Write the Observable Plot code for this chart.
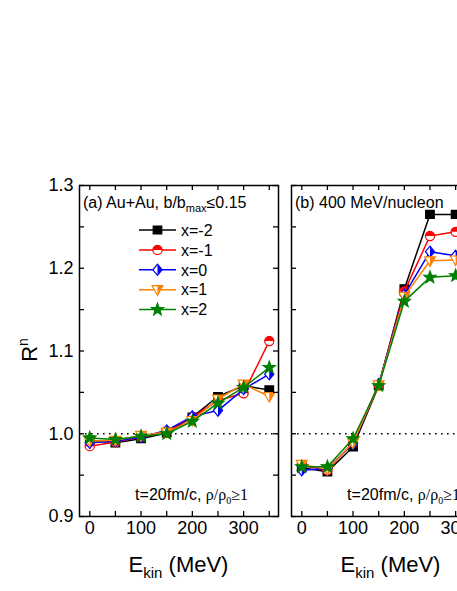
<!DOCTYPE html>
<html><head><meta charset="utf-8">
<script src="https://cdn.jsdelivr.net/npm/d3@7"></script>
<script src="https://cdn.jsdelivr.net/npm/@observablehq/plot@0.6"></script>
<style>
html,body{margin:0;padding:0;background:#fff;overflow:hidden;}
#wrap{position:relative;width:457px;height:591px;overflow:hidden;background:#fff;}
#wrap svg{position:absolute;left:0;top:0;}
</style></head><body><div id="wrap"></div>
<script>
// ---------- data ----------
const energyA = [0, 50, 100, 150, 200, 250, 300, 350];
const panelA_xm2 = [0.992, 0.989, 0.994, 1.001, 1.020, 1.045, 1.058, 1.053];
const panelA_xm1 = [0.985, 0.990, 0.996, 1.003, 1.020, 1.040, 1.049, 1.112];
const panelA_x0  = [0.989, 0.991, 0.996, 1.004, 1.021, 1.028, 1.054, 1.072];
const panelA_x1  = [0.991, 0.992, 0.998, 1.002, 1.016, 1.042, 1.060, 1.045];
const panelA_x2  = [0.995, 0.993, 0.997, 1.000, 1.015, 1.037, 1.056, 1.080];

const energyB = [0, 50, 100, 150, 200, 250, 300];
const panelB_xm2 = [0.959, 0.954, 0.984, 1.058, 1.175, 1.265, 1.265];
const panelB_xm1 = [0.962, 0.956, 0.989, 1.059, 1.172, 1.239, 1.244];
const panelB_x0  = [0.956, 0.958, 0.988, 1.060, 1.168, 1.220, 1.215];
const panelB_x1  = [0.963, 0.957, 0.989, 1.059, 1.166, 1.209, 1.210];
const panelB_x2  = [0.960, 0.960, 0.994, 1.058, 1.160, 1.189, 1.191];

const seriesNames = ["x=-2", "x=-1", "x=0", "x=1", "x=2"];
const xTicks = [0, 50, 100, 150, 200, 250, 300, 350];
const xTickLabels = [0, 100, 200, 300];
const yTicks = [0.9, 0.95, 1.0, 1.05, 1.1, 1.15, 1.2, 1.25, 1.3];
const yTickLabels = [0.9, 1.0, 1.1, 1.2, 1.3];

// ---------- styles ----------
const colors = ["#000000", "#ff0000", "#0000ff", "#ff8000", "#008000"];
const SANS = "'Liberation Sans', Arial, sans-serif";
const SERIF = "'Liberation Serif', 'Times New Roman', serif";
const H = 591, MT = 185, MB = 75;
const frameH = H - MT - MB;
const xDomain = [-20, 368];
const yDomain = [0.9, 1.3];

// custom symbols (scaled so that r=5 gives nominal pixel sizes)
const sc = size => Math.sqrt(size / Math.PI) / 5;
const symSquare = {draw(c, size){ const s = sc(size); c.moveTo(-4.3*s,-4*s); c.lineTo(4.3*s,-4*s); c.lineTo(4.3*s,4*s); c.lineTo(-4.3*s,4*s); c.closePath(); }};
const symCircle = {draw(c, size){ const s = sc(size); const R = 4.6*s; c.moveTo(R,0); c.arc(0,0,R,0,2*Math.PI); c.closePath(); }};
const symCircleTop = {draw(c, size){ const s = sc(size); const R = 4.6*s; c.moveTo(-R,0); c.arc(0,0,R,Math.PI,2*Math.PI); c.closePath(); }};
const symDiamond = {draw(c, size){ const s = sc(size); c.moveTo(0,-5.6*s); c.lineTo(4.6*s,0); c.lineTo(0,5.6*s); c.lineTo(-4.6*s,0); c.closePath(); }};
const symDiamondRight = {draw(c, size){ const s = sc(size); c.moveTo(0,-5.6*s); c.lineTo(4.6*s,0); c.lineTo(0,5.6*s); c.closePath(); }};
const symTri = {draw(c, size){ const s = sc(size); c.moveTo(-5.4*s,-4*s); c.lineTo(5.4*s,-4*s); c.lineTo(0,5.6*s); c.closePath(); }};
const symTriRight = {draw(c, size){ const s = sc(size); c.moveTo(0,-4*s); c.lineTo(5.4*s,-4*s); c.lineTo(0,5.6*s); c.closePath(); }};
const symStar = {draw(c, size){ const s = sc(size); for (let k = 0; k < 10; k++){ const a = -Math.PI/2 + k*Math.PI/5; const rr = (k%2 ? 2.7 : 6.4)*s; const px = rr*Math.cos(a), py = rr*Math.sin(a); if (k===0) c.moveTo(px,py); else c.lineTo(px,py);} c.closePath(); }};

const symbols = [
  {outline: symSquare, bg: "fill"},
  {outline: symCircle, bg: "#fff", half: symCircleTop},
  {outline: symDiamond, bg: "#fff", half: symDiamondRight},
  {outline: symTri, bg: "#fff", half: symTriRight},
  {outline: symStar, bg: "fill"}
];

function seriesMarks(energies, series) {
  const marks = [];
  series.forEach((vals, i) => {
    const rows = energies.map((e, j) => ({e, v: vals[j]}));
    const sym = symbols[i];
    marks.push(Plot.line(rows, {x: "e", y: "v", stroke: colors[i], strokeWidth: 1.5}));
    marks.push(Plot.dot(rows, {x: "e", y: "v", r: 5, symbol: sym.outline,
      fill: sym.bg === "fill" ? colors[i] : sym.bg, stroke: colors[i], strokeWidth: 1.2}));
    if (sym.half) marks.push(Plot.dot(rows, {x: "e", y: "v", r: 5, symbol: sym.half, fill: colors[i], stroke: "none"}));
  });
  return marks;
}

function makePanel({energies, series, marginLeft, width, marginRight, yLabels}) {
  const frameW = width - marginLeft - marginRight;
  const marks = [
    Plot.ruleY([1], {stroke: "#000", strokeWidth: 1.3, strokeDasharray: "1.6,4.4"}),
    ...seriesMarks(energies, series),
    Plot.tickX(xTicks, {x: d => d, insetTop: frameH - 5, stroke: "#000", strokeWidth: 1.3}),
    Plot.tickX(xTicks, {x: d => d, insetBottom: frameH - 5, stroke: "#000", strokeWidth: 1.3}),
    Plot.tickY(yTicks, {y: d => d, insetRight: frameW - 5, stroke: "#000", strokeWidth: 1.3}),
    Plot.tickY(yTicks, {y: d => d, insetLeft: frameW - 5, stroke: "#000", strokeWidth: 1.3}),
    Plot.frame({stroke: "#000", strokeWidth: 1.5}),
    Plot.text(xTickLabels, {x: d => d, text: d => String(d), frameAnchor: "bottom", dy: 17,
      fontSize: 18, fill: "#000", fontFamily: SANS})
  ];
  if (yLabels) marks.push(Plot.text(yTickLabels, {y: d => d, text: d => d.toFixed(1), frameAnchor: "left",
    dx: -6, textAnchor: "end", fontSize: 18, fill: "#000", fontFamily: SANS}));
  return Plot.plot({
    width, height: H, marginTop: MT, marginBottom: MB, marginLeft, marginRight,
    x: {domain: xDomain, axis: null},
    y: {domain: yDomain, axis: null},
    style: {background: "transparent", maxWidth: "none", overflow: "visible", fontFamily: SANS},
    marks
  });
}

const wrap = document.getElementById("wrap");
const pB = makePanel({energies: energyB, series: [panelB_xm2, panelB_xm1, panelB_x0, panelB_x1, panelB_x2],
  marginLeft: 291, width: 500, marginRight: 10, yLabels: false});
const pA = makePanel({energies: energyA, series: [panelA_xm2, panelA_xm1, panelA_x0, panelA_x1, panelA_x2],
  marginLeft: 79, width: 285, marginRight: 7, yLabels: true});
wrap.appendChild(pB);
wrap.appendChild(pA);

// ---------- annotations ----------
function addText(svg, x, y, parts, opts = {}) {
  const t = d3.select(svg).append("text").attr("x", x).attr("y", y)
    .attr("font-family", SANS).attr("font-size", opts.size || 16).attr("fill", "#000")
    .attr("text-anchor", opts.anchor || "start");
  if (opts.transform) t.attr("transform", opts.transform);
  parts.forEach(p => {
    const ts = t.append("tspan").text(p.t);
    if (p.size) ts.attr("font-size", p.size);
    if (p.dy) ts.attr("dy", p.dy);
    if (p.family) ts.attr("font-family", p.family);
  });
  return t;
}

function panelTexts(svg, left, right, label) {
  addText(svg, left + 4, 207.5, label);
  addText(svg, right - 30, 500, [
    {t: "t=20fm/c, "},
    {t: "ρ/ρ", family: SERIF},
    {t: "0", family: SERIF, size: 10, dy: 4},
    {t: "≥1", family: SERIF, dy: -4}
  ], {anchor: "end"});
  addText(svg, (left + right) / 2, 572, [
    {t: "E"}, {t: "kin", size: 15, dy: 6}, {t: " (MeV)", dy: -6}
  ], {size: 22, anchor: "middle"});
}

panelTexts(pA, 79, 278, [
  {t: "(a) Au+Au, b/b"}, {t: "max", size: 11, dy: 4}, {t: "≤0.15", dy: -4}
]);
panelTexts(pB, 291, 490, [{t: "(b) 400 MeV/nucleon"}]);

// y axis label
addText(pA, 0, 0, [{t: "R"}, {t: "n", size: 14, dy: -9}], {size: 22, anchor: "middle",
  transform: "translate(37,350) rotate(-90)"});

// legend
const lg = d3.select(pA).append("g");
seriesNames.forEach((name, i) => {
  const y = 230 + i * 19.9;
  lg.append("line").attr("x1", 139).attr("x2", 176).attr("y1", y).attr("y2", y)
    .attr("stroke", colors[i]).attr("stroke-width", 1.5);
  const sym = symbols[i];
  lg.append("path").attr("transform", `translate(157.5,${y})`)
    .attr("d", d3.symbol(sym.outline, 25 * Math.PI)())
    .attr("fill", sym.bg === "fill" ? colors[i] : sym.bg).attr("stroke", colors[i]).attr("stroke-width", 1.2);
  if (sym.half) lg.append("path").attr("transform", `translate(157.5,${y})`)
    .attr("d", d3.symbol(sym.half, 25 * Math.PI)()).attr("fill", colors[i]);
  lg.append("text").attr("x", 181).attr("y", y).attr("dy", "0.36em").attr("text-anchor", "start")
    .attr("font-family", SANS).attr("font-size", 16).attr("fill", "#000").text(name);
});
</script></body></html>
